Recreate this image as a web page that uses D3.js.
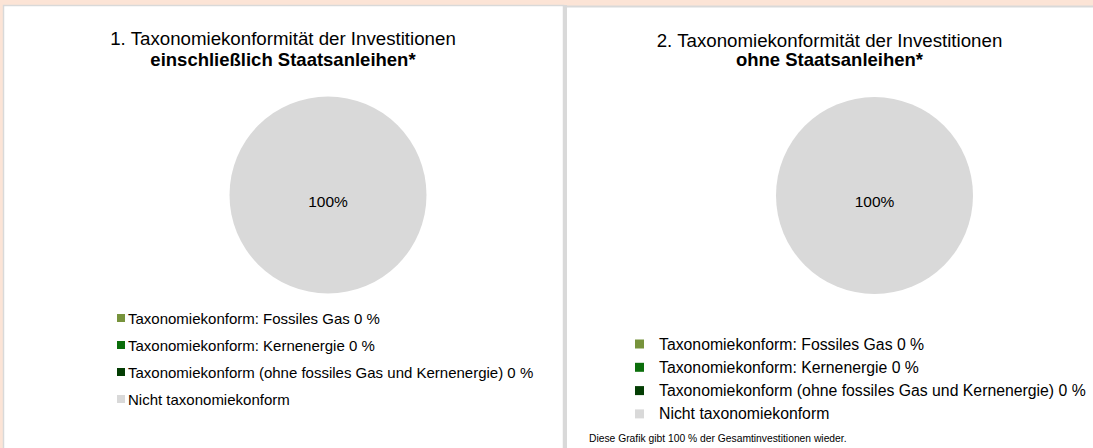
<!DOCTYPE html>
<html><head><meta charset="utf-8">
<script src="https://cdn.jsdelivr.net/npm/d3@7"></script>
<style>html,body{margin:0;padding:0;background:#fce4d6;} svg{display:block;font-family:"Liberation Sans",Arial,sans-serif;}</style>
</head><body>
<script>
const categories = ["Taxonomiekonform: Fossiles Gas", "Taxonomiekonform: Kernenergie", "Taxonomiekonform (ohne fossiles Gas und Kernenergie)", "Nicht taxonomiekonform"];
const legendLabels = ["Taxonomiekonform: Fossiles Gas 0 %", "Taxonomiekonform: Kernenergie 0 %", "Taxonomiekonform (ohne fossiles Gas und Kernenergie) 0 %", "Nicht taxonomiekonform"];
const colors = ["#77933c", "#0b6e0b", "#033d03", "#d9d9d9"];
const valuesInclSovereign = [0, 0, 0, 100];
const valuesExclSovereign = [0, 0, 0, 100];
const titleLine1 = ["1. Taxonomiekonformität der Investitionen", "2. Taxonomiekonformität der Investitionen"];
const titleLine2 = ["einschließlich Staatsanleihen*", "ohne Staatsanleihen*"];
const footnote = "Diese Grafik gibt 100 % der Gesamtinvestitionen wieder.";

const W = 1093, H = 448;
const svg = d3.select("body").append("svg").attr("width", W).attr("height", H);
svg.append("rect").attr("width", W).attr("height", H).attr("fill", "#fce4d6");

const panels = [
  {x: 3.5, y: 5.5, w: 560, h: 450, titleX: 283, t1y: 38.5, t2y: 59, cx: 328, cy: 195,
   lx: 117, ly: 318, lgap: 27, sq: 8, textDx: 11, lfs: 15},
  {x: 566, y: 6.5, w: 540, h: 450, titleX: 829.5, t1y: 40, t2y: 59.5, cx: 874.5, cy: 195.5,
   lx: 635, ly: 344, lgap: 23.3, sq: 9, textDx: 24, lfs: 15.8}
];
panels.forEach((p, i) => {
  svg.append("rect").attr("x", p.x).attr("y", p.y).attr("width", p.w).attr("height", p.h)
    .attr("fill", "#ffffff").attr("stroke", "#d9d9d9").attr("stroke-width", i === 0 ? 1.5 : 2);
});
// gray gutter between the two panels
svg.append("rect").attr("x", 563).attr("y", 5).attr("width", 4).attr("height", H).attr("fill", "#d9d9d9");

const pie = d3.pie().sort(null).value(d => d);
const r = 98.5;
const arc = d3.arc().innerRadius(0).outerRadius(r);
const datasets = [valuesInclSovereign, valuesExclSovereign];

panels.forEach((p, i) => {
  const g = svg.append("g");
  g.append("text").attr("x", p.titleX).attr("y", p.t1y).attr("text-anchor", "middle")
    .attr("dominant-baseline", "central").attr("font-size", 18.7).attr("fill", "#000").text(titleLine1[i]);
  g.append("text").attr("x", p.titleX).attr("y", p.t2y).attr("text-anchor", "middle")
    .attr("dominant-baseline", "central").attr("font-size", 18.5).attr("font-weight", "bold").attr("fill", "#000").text(titleLine2[i]);

  const pg = g.append("g").attr("transform", `translate(${p.cx},${p.cy})`);
  const arcs = pie(datasets[i]);
  pg.selectAll("path").data(arcs).join("path")
    .attr("d", arc).attr("fill", (d, j) => colors[j]);
  pg.selectAll("text.lbl").data(arcs.filter(d => d.value > 0)).join("text")
    .attr("class", "lbl")
    .attr("x", d => d.endAngle - d.startAngle >= 2 * Math.PI - 1e-6 ? 0 : arc.centroid(d)[0])
    .attr("y", d => d.endAngle - d.startAngle >= 2 * Math.PI - 1e-6 ? 6 : arc.centroid(d)[1])
    .attr("text-anchor", "middle").attr("dominant-baseline", "central")
    .attr("font-size", 15.5).attr("fill", "#000")
    .text(d => d3.format(".0f")(d.value) + "%");

  const lg = g.append("g");
  legendLabels.forEach((lab, j) => {
    const y = p.ly + j * p.lgap;
    lg.append("rect").attr("x", p.lx).attr("y", y - p.sq / 2).attr("width", p.sq).attr("height", p.sq).attr("fill", colors[j]);
    lg.append("text").attr("x", p.lx + p.textDx).attr("y", y).attr("dominant-baseline", "central")
      .attr("font-size", p.lfs).attr("fill", "#000").text(lab);
  });
});

svg.append("text").attr("x", 589).attr("y", 438).attr("dominant-baseline", "central")
  .attr("font-size", 10.3).attr("fill", "#000").text(footnote);
</script>
</body></html>
